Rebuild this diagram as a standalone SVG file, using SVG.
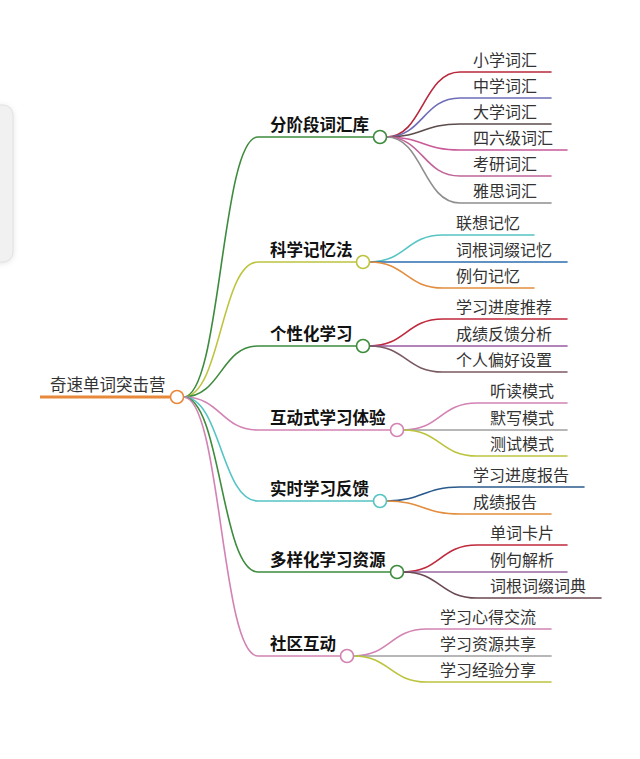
<svg xmlns="http://www.w3.org/2000/svg" width="640" height="759" viewBox="0 0 640 759">
<defs>
<filter id="sh" x="-50%" y="-20%" width="200%" height="140%"><feGaussianBlur stdDeviation="3"/></filter>
</defs>
<style>
.c{fill:none;stroke-width:1.6;stroke-linecap:round}
.n{fill:#fff;stroke-width:1.6}
.t{font-family:"Noto Sans CJK SC","Noto Sans",sans-serif;font-size:16px;fill:#333}
.m{font-family:"Noto Sans CJK SC","Noto Sans",sans-serif;font-size:16.5px;font-weight:bold;fill:#111}
.r{font-family:"Noto Sans CJK SC","Noto Sans",sans-serif;font-size:16.5px;fill:#333}
</style>
<rect width="640" height="759" fill="#fff"/>
<g id="side-panel">
<rect x="-20" y="106" width="33" height="157" rx="10" fill="#000" opacity="0.12" filter="url(#sh)"/>
<rect x="-20" y="105" width="33" height="157" rx="10" fill="#f1f1f1" stroke="#e2e2e2"/>
</g>
<g id="connectors">
<path d="M40 397H170.5" fill="none" stroke="#e8883a" stroke-width="3"/>
<path class="c" stroke="#3d8b3d" d="M183.5 397C221 397 221 137 258 137H373.5"/>
<path class="c" stroke="#bcc43e" d="M183.5 397C221 397 221 262 258 262H356.5"/>
<path class="c" stroke="#3d8b3d" d="M183.5 397C221 397 221 346 258 346H356.5"/>
<path class="c" stroke="#d283b4" d="M183.5 397C221 397 221 430 258 430H390.5"/>
<path class="c" stroke="#56c4c4" d="M183.5 397C221 397 221 501 258 501H373.5"/>
<path class="c" stroke="#3d8b3d" d="M183.5 397C221 397 221 572 258 572H390.5"/>
<path class="c" stroke="#d283b4" d="M183.5 397C221 397 221 656 258 656H340.5"/>

<path class="c" stroke="#b8283c" d="M386.5 137C423 137 423 72 460 72H551"/>
<path class="c" stroke="#6e6eb8" d="M386.5 137C423 137 423 98 460 98H551"/>
<path class="c" stroke="#5c4c4c" d="M386.5 137C423 137 423 124 460 124H551"/>
<path class="c" stroke="#c85a9a" d="M386.5 137C423 137 423 150 460 150H567"/>
<path class="c" stroke="#c0649a" d="M386.5 137C423 137 423 176 460 176H551"/>
<path class="c" stroke="#8e8e8e" d="M386.5 137C423 137 423 203 460 203H551"/>

<path class="c" stroke="#56c4c4" d="M369.5 262C406 262 406 235 443 235H534"/>
<path class="c" stroke="#2b6fae" d="M369.5 262C406 262 406 262 443 262H567"/>
<path class="c" stroke="#e38d3e" d="M369.5 262C406 262 406 288 443 288H534"/>

<path class="c" stroke="#c0283c" d="M369.5 346C406 346 406 319 443 319H567"/>
<path class="c" stroke="#9a5aa2" d="M369.5 346C406 346 406 346 443 346H567"/>
<path class="c" stroke="#7a5a62" d="M369.5 346C406 346 406 372 443 372H567"/>

<path class="c" stroke="#d283b4" d="M403.5 430C440 430 440 403 477 403H567"/>
<path class="c" stroke="#a0a0a0" d="M403.5 430C440 430 440 430 477 430H567"/>
<path class="c" stroke="#bcc43e" d="M403.5 430C440 430 440 456 477 456H567"/>

<path class="c" stroke="#2a5a8c" d="M386.5 501C423 501 423 487 460 487H584"/>
<path class="c" stroke="#e38d3e" d="M386.5 501C423 501 423 514 460 514H551"/>

<path class="c" stroke="#c0283c" d="M403.5 572C440 572 440 545 477 545H567"/>
<path class="c" stroke="#9a6aa2" d="M403.5 572C440 572 440 572 477 572H567"/>
<path class="c" stroke="#6a4a52" d="M403.5 572C440 572 440 598 477 598H601"/>

<path class="c" stroke="#d283b4" d="M353.5 656C390 656 390 629 427 629H551"/>
<path class="c" stroke="#a0a0a0" d="M353.5 656C390 656 390 656 427 656H551"/>
<path class="c" stroke="#bcc43e" d="M353.5 656C390 656 390 682 427 682H551"/>
</g>
<g id="root"><text class="r" x="50" y="391">奇速单词突击营</text><circle class="n" cx="177" cy="397" r="6.5" stroke="#e8883a"/></g>

<g id="n1"><text class="m" x="270" y="131">分阶段词汇库</text><circle class="n" cx="380" cy="137" r="6.5" stroke="#3d8b3d"/></g>
<g id="n1-1"><text class="t" x="473" y="66">小学词汇</text></g>
<g id="n1-2"><text class="t" x="473" y="92">中学词汇</text></g>
<g id="n1-3"><text class="t" x="473" y="118">大学词汇</text></g>
<g id="n1-4"><text class="t" x="473" y="144">四六级词汇</text></g>
<g id="n1-5"><text class="t" x="473" y="170">考研词汇</text></g>
<g id="n1-6"><text class="t" x="473" y="197">雅思词汇</text></g>

<g id="n2"><text class="m" x="270" y="256">科学记忆法</text><circle class="n" cx="363" cy="262" r="6.5" stroke="#bcc43e"/></g>
<g id="n2-1"><text class="t" x="456" y="229">联想记忆</text></g>
<g id="n2-2"><text class="t" x="456" y="256">词根词缀记忆</text></g>
<g id="n2-3"><text class="t" x="456" y="282">例句记忆</text></g>

<g id="n3"><text class="m" x="270" y="340">个性化学习</text><circle class="n" cx="363" cy="346" r="6.5" stroke="#3d8b3d"/></g>
<g id="n3-1"><text class="t" x="456" y="313">学习进度推荐</text></g>
<g id="n3-2"><text class="t" x="456" y="340">成绩反馈分析</text></g>
<g id="n3-3"><text class="t" x="456" y="366">个人偏好设置</text></g>

<g id="n4"><text class="m" x="270" y="424">互动式学习体验</text><circle class="n" cx="397" cy="430" r="6.5" stroke="#d283b4"/></g>
<g id="n4-1"><text class="t" x="490" y="397">听读模式</text></g>
<g id="n4-2"><text class="t" x="490" y="424">默写模式</text></g>
<g id="n4-3"><text class="t" x="490" y="450">测试模式</text></g>

<g id="n5"><text class="m" x="270" y="495">实时学习反馈</text><circle class="n" cx="380" cy="501" r="6.5" stroke="#56c4c4"/></g>
<g id="n5-1"><text class="t" x="473" y="481">学习进度报告</text></g>
<g id="n5-2"><text class="t" x="473" y="508">成绩报告</text></g>

<g id="n6"><text class="m" x="270" y="566">多样化学习资源</text><circle class="n" cx="397" cy="572" r="6.5" stroke="#3d8b3d"/></g>
<g id="n6-1"><text class="t" x="490" y="539">单词卡片</text></g>
<g id="n6-2"><text class="t" x="490" y="566">例句解析</text></g>
<g id="n6-3"><text class="t" x="490" y="592">词根词缀词典</text></g>

<g id="n7"><text class="m" x="270" y="650">社区互动</text><circle class="n" cx="347" cy="656" r="6.5" stroke="#d283b4"/></g>
<g id="n7-1"><text class="t" x="440" y="623">学习心得交流</text></g>
<g id="n7-2"><text class="t" x="440" y="650">学习资源共享</text></g>
<g id="n7-3"><text class="t" x="440" y="676">学习经验分享</text></g>
</svg>
